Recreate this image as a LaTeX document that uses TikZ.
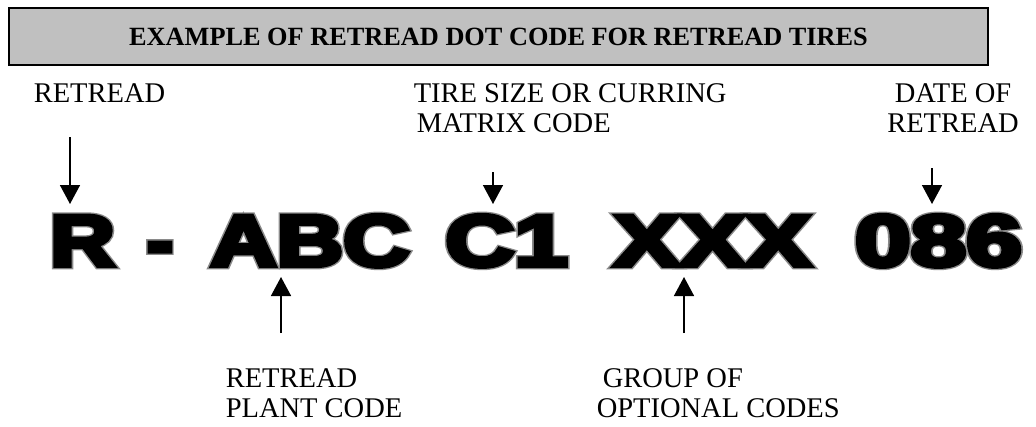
\documentclass[tikz,border=0pt]{standalone}
\usepackage{fontspec}
\usepackage{graphicx}
\setmainfont{Liberation Serif}
\newfontfamily\inkfont{Liberation Sans Bold}[FakeBold=6]
\newfontfamily\rimfont{Liberation Sans Bold}[FakeBold=9.5]
\usetikzlibrary{arrows.meta, positioning}
\definecolor{cbar}{HTML}{C0C0C0}
\definecolor{crim}{HTML}{8A8A8A}
\tikzset{
  every picture/.style={line width=1.5pt},
  titlebar/.style={draw=black, fill=cbar, line width=2pt, inner sep=0pt,
    font=\bfseries\fontsize{26.3}{28}\selectfont},
  label/.style={inner sep=0pt, align=left, font=\fontsize{28.5}{30}\selectfont},
  codeink/.style={anchor=base, inner sep=0pt, text=black, font=\inkfont\fontsize{73}{73}\selectfont},
  coderim/.style={anchor=base, inner sep=0pt, text=crim, font=\rimfont\fontsize{73}{73}\selectfont},
  pointer/.style={-{Triangle[length=19pt, width=20pt]}, line width=1.5pt},
}

\begin{document}
\begin{tikzpicture}[x=1pt, y=-1pt]
  \useasboundingbox (0,0) rectangle (1036,426);
  % title
  \node[titlebar, minimum width=979pt, minimum height=57pt] (head) at (498.5,36.5)
    {EXAMPLE OF RETREAD DOT CODE FOR RETREAD TIRES};
  % the code itself, grey rim under black letters
  \node[coderim] at (82.5,266) {\scalebox{1.23}[1]{R}};
  \node[codeink] (r) at (82.5,266) {\scalebox{1.23}[1]{R}};
  \node[coderim] at (160,266) {\scalebox{1.08}[1]{-}};
  \node[codeink] (dash) at (160,266) {\scalebox{1.08}[1]{-}};
  \node[coderim] at (310,266) {\scalebox{1.26}[1]{ABC}};
  \node[codeink] (abc) at (310,266) {\scalebox{1.26}[1]{ABC}};
  \node[coderim] at (506.5,266) {\scalebox{1.31}[1]{C1}};
  \node[codeink] (cone) at (506.5,266) {\scalebox{1.31}[1]{C1}};
  \node[coderim] at (712.5,266) {\scalebox{1.35}[1]{XXX}};
  \node[codeink] (xxx) at (712.5,266) {\scalebox{1.35}[1]{XXX}};
  \node[coderim] at (938.5,266) {\scalebox{1.37}[1]{086}};
  \node[codeink] (date) at (938.5,266) {\scalebox{1.37}[1]{086}};
  % labels above
  \node[label, anchor=north west] (ret) at (33,83) {RETREAD};
  \node[label, anchor=north west] (size) at (413,83) {TIRE SIZE OR CURRING\\\hspace*{3pt}MATRIX CODE};
  \node[label, align=center, anchor=north] (when) at (953,83) {DATE OF\\RETREAD};
  % labels below
  \node[label, anchor=north west] (plant) at (225,368) {RETREAD\\PLANT CODE};
  \node[label, anchor=north west] (group) at (596,368) {\hspace*{6pt}GROUP OF\\OPTIONAL CODES};
  % arrow ends
  \coordinate (retT) at (70,137);   \coordinate (retH) at (70,204);
  \coordinate (sizeT) at (493,172); \coordinate (sizeH) at (493,204);
  \coordinate (whenT) at (932,168); \coordinate (whenH) at (932,204);
  \coordinate (plantT) at (281,333); \coordinate (plantH) at (281,277);
  \coordinate (groupT) at (684,333); \coordinate (groupH) at (684,277);
  \draw[pointer] (retT) -- (retH);
  \draw[pointer] (sizeT) -- (sizeH);
  \draw[pointer] (whenT) -- (whenH);
  \draw[pointer] (plantT) -- (plantH);
  \draw[pointer] (groupT) -- (groupH);
\end{tikzpicture}
\end{document}
